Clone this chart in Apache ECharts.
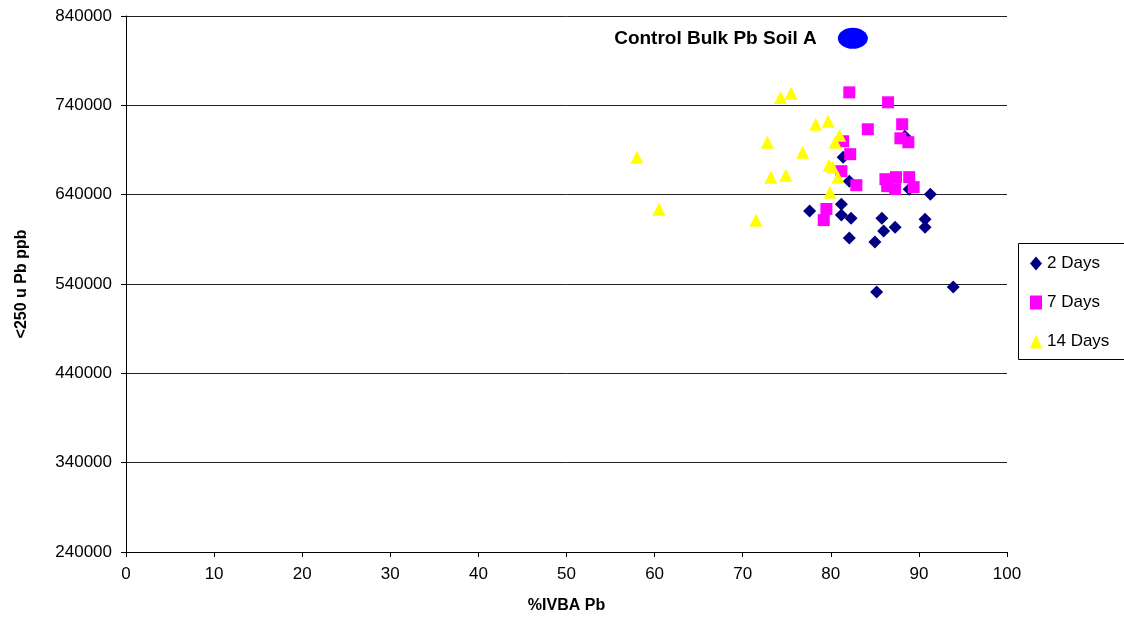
<!DOCTYPE html>
<html>
<head>
<meta charset="utf-8">
<script src="https://cdn.jsdelivr.net/npm/echarts@6/dist/echarts.min.js"></script>
<style>
html,body{margin:0;padding:0;background:#fff;}
#chart{width:1124px;height:622px;}
</style>
</head>
<body>
<div id="chart"></div>
<script>
// [%IVBA Pb, <250 u Pb ppb]
var days2 = [
  [77.6, 621600], [81.2, 629400], [81.2, 617100], [82.3, 613700], [82.1, 591400],
  [85.8, 613700], [86.0, 599200], [87.3, 603600], [85.0, 586900], [85.2, 531000],
  [90.7, 612600], [90.7, 603600], [91.3, 640600], [93.9, 536700], [81.4, 681900],
  [82.1, 655100], [88.9, 646200], [88.4, 705400]
];
var days7 = [
  [82.1, 754500], [86.5, 743400], [84.2, 713200], [88.1, 718800], [87.9, 703100],
  [88.8, 698700], [81.4, 699800], [82.2, 685300], [81.2, 666300], [82.9, 650600],
  [86.2, 657300], [87.4, 659600], [88.9, 659600], [86.4, 649500], [87.3, 646200],
  [89.4, 648400], [79.5, 624000], [79.2, 611500]
];
var days14 = [
  [58.0, 681900], [60.5, 623800], [71.5, 611500], [72.8, 698700], [73.2, 659600],
  [74.9, 661800], [74.3, 748900], [75.5, 753400], [76.8, 687500], [78.3, 718800],
  [79.7, 722100], [79.8, 673000], [80.2, 670700], [81.0, 706500], [80.5, 698700],
  [80.8, 659600], [79.9, 642800]
];
var control = [[82.5, 815000]];
var controlLabel = 'Control Bulk Pb Soil A';
var seriesNames = ['2 Days', '7 Days', '14 Days'];
var xTitle = '%IVBA Pb';
var yTitle = '<250 u Pb ppb';

var font = 'Liberation Sans, Arial, sans-serif';
var chart = echarts.init(document.getElementById('chart'));
chart.setOption({
  backgroundColor: '#fff',
  animation: false,
  grid: {left: 126, top: 16, width: 881, height: 536, show: false},
  xAxis: {
    type: 'value', min: 0, max: 100, interval: 10,
    name: xTitle, nameLocation: 'middle', nameGap: 46,
    nameTextStyle: {fontFamily: font, fontWeight: 'bold', fontSize: 16, color: '#000'},
    axisLine: {show: true, lineStyle: {color: '#000', width: 1}},
    axisTick: {show: true, length: 5, lineStyle: {color: '#000'}},
    axisLabel: {fontFamily: font, fontSize: 17, color: '#000', margin: 14},
    splitLine: {show: false}
  },
  yAxis: {
    type: 'value', min: 240000, max: 840000, interval: 100000,
    name: yTitle, nameLocation: 'middle', nameGap: 96, nameRotate: 90,
    nameTextStyle: {fontFamily: font, fontWeight: 'bold', fontSize: 16, color: '#000'},
    axisLine: {show: true, onZero: false, lineStyle: {color: '#000', width: 1}},
    axisTick: {show: true, length: 5, lineStyle: {color: '#000'}},
    axisLabel: {fontFamily: font, fontSize: 17, color: '#000', margin: 14,
      formatter: function (v) { return String(v); }},
    splitLine: {show: true, lineStyle: {color: '#222', width: 1}}
  },
  legend: {
    orient: 'vertical', left: 1030, top: 255,
    data: seriesNames,
    itemGap: 22, itemWidth: 12, itemHeight: 14,
    textStyle: {fontFamily: font, fontSize: 17, color: '#000'},
    padding: 0
  },
  graphic: [{
    type: 'rect', left: 1016, top: 241,
    shape: {width: 120, height: 116},
    style: {fill: 'none', stroke: '#000', lineWidth: 1}
  }],
  series: [
    {name: '2 Days', type: 'scatter', data: days2, symbol: 'diamond', symbolSize: 13,
     itemStyle: {color: '#000080', opacity: 1}},
    {name: '7 Days', type: 'scatter', data: days7, symbol: 'rect', symbolSize: 12,
     itemStyle: {color: '#FF00FF', opacity: 1}},
    {name: '14 Days', type: 'scatter', data: days14, symbol: 'triangle', symbolSize: 13,
     itemStyle: {color: '#FFFF00', opacity: 1}},
    {name: 'Control', type: 'scatter', data: control, symbol: 'circle', symbolSize: [30, 21],
     itemStyle: {color: '#0000FF', opacity: 1},
     label: {show: true, position: 'left', distance: 21, formatter: controlLabel,
       fontFamily: font, fontWeight: 'bold', fontSize: 19, color: '#000', opacity: 1}}
  ]
});
</script>
</body>
</html>
